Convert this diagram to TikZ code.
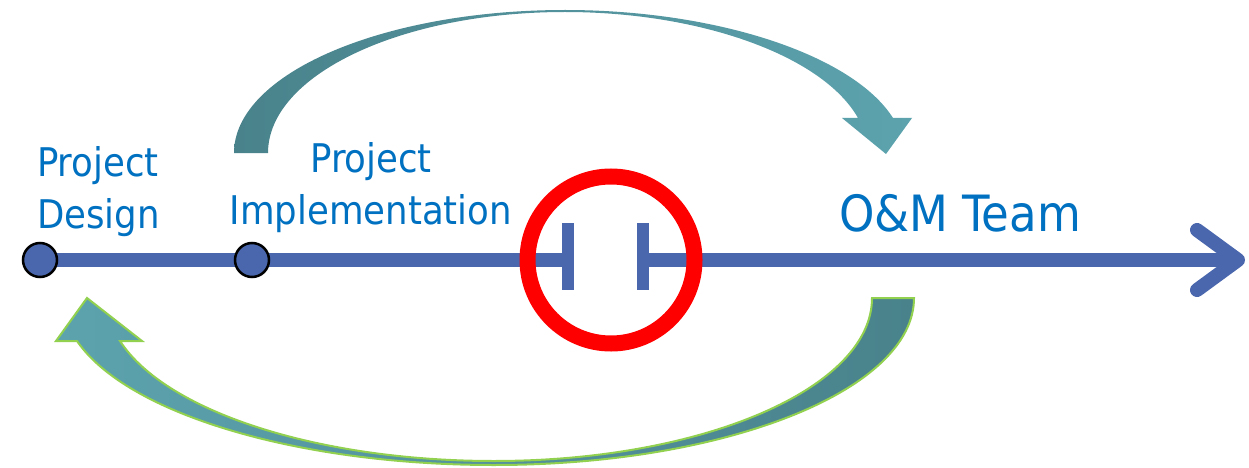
\documentclass[tikz,border=0pt]{standalone}
\usepackage{fontspec}
\setmainfont{DejaVu Sans Condensed}
\usetikzlibrary{backgrounds}
\definecolor{axisblue}{RGB}{74,103,174}
\definecolor{labelblue}{RGB}{0,112,192}
\definecolor{tealdark}{RGB}{73,130,139}
\definecolor{teallight}{RGB}{92,163,174}
\definecolor{leafgreen}{RGB}{146,208,80}
\tikzset{
  axisline/.style={draw=axisblue, line width=14pt},
  tickmark/.style={draw=axisblue, line width=12pt},
  dot/.style={circle, fill=axisblue, draw=black, line width=2.5pt, minimum size=34pt, inner sep=0pt},
  stage/.style={text=labelblue, inner sep=0pt, font=\fontsize{39.5}{52}\selectfont},
}
\begin{document}
\begin{tikzpicture}[x=1pt, y=-1pt]
 \useasboundingbox (0,0) rectangle (1249,468);
 \node[dot] (design) at (40,260) {};
 \node[dot] (impl) at (252,260) {};
 \coordinate (gapL) at (568,260);
 \coordinate (gapR) at (643,260);
 \coordinate (tip) at (1238,260);
 \begin{scope}[on background layer]
  \draw[axisline] (design.center) -- (gapL);
  \draw[axisline] (gapR) -- (tip);
  \draw[axisline, line cap=round, line join=round] (tip) ++(-41,-30) -- (tip) -- ++(-41,30);
  \draw[tickmark] (gapL) ++(0,-37) -- ++(0,67);
  \draw[tickmark] (gapR) ++(0,-37) -- ++(0,67);
 \end{scope}
 \node[circle, draw=red, line width=16pt, minimum size=167pt, inner sep=0pt] (gap) at (611,260) {};
 \node[stage, align=left, anchor=south west] (designtxt) at (37,237) {Project\\Design};
 \node[stage, align=center, anchor=south] (impltxt) at (371,233) {Project\\Implementation};
 \node[stage, font=\fontsize{50}{60}\selectfont, anchor=base] (omtxt) at (960,231) {O\&M Team};
 % hand-over arrow, design to O&M
 \path[left color=tealdark, right color=teallight]
  (234,153) .. controls (234,74) and (382,10) .. (565,10)
  .. controls (717,10) and (853,55) .. (893,118)
  -- (912,118) -- (886,154) -- (842,118) -- (858,118)
  .. controls (823,56) and (701,12) .. (565,12)
  .. controls (401,12) and (268,75) .. (268,153) -- cycle;
 % feedback arrow, O&M back to design
 \path[draw=leafgreen, line width=2pt, left color=teallight, right color=tealdark]
  (872,298) -- (914,298)
  .. controls (914,390) and (726,465) .. (494,465)
  .. controls (298,465) and (127,414) .. (77,341)
  -- (56,341) -- (87,298) -- (142,341) -- (120,341)
  .. controls (166,412) and (319,461) .. (494,461)
  .. controls (703,461) and (872,388) .. (872,298) -- cycle;
\end{tikzpicture}
\end{document}
